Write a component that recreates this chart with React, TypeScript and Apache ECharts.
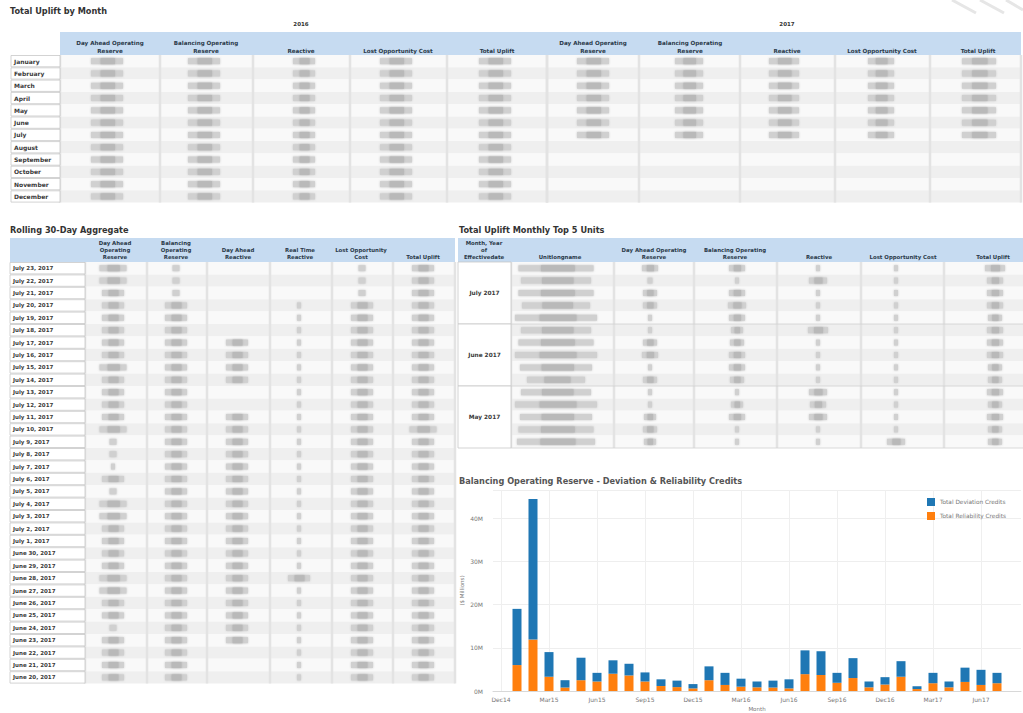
import React, { useEffect, useRef } from "react";
import * as echarts from "echarts";

// ---------------- Bar chart data ($ millions) ----------------
const monthLabels = ["Dec14","Jan15","Feb15","Mar15","Apr15","May15","Jun15","Jul15","Aug15","Sep15","Oct15","Nov15","Dec15","Jan16","Feb16","Mar16","Apr16","May16","Jun16","Jul16","Aug16","Sep16","Oct16","Nov16","Dec16","Jan17","Feb17","Mar17","Apr17","May17","Jun17","Jul17","Aug17"];
const reliabilityCredits = [null, 6.0, 11.9, 3.3, 0.8, 2.5, 2.2, 4.0, 3.6, 2.2, 1.15, 0.9, 0.6, 2.5, 1.4, 1.0, 0.85, 0.8, 0.6, 3.9, 3.7, 1.9, 3.0, 0.85, 1.5, 3.3, 0.45, 1.8, 0.85, 2.1, 1.4, 1.8, null];
const deviationCredits = [null, 13.0, 32.5, 5.7, 1.7, 5.2, 2.0, 3.1, 2.7, 2.1, 1.55, 1.5, 1.0, 3.2, 2.8, 1.85, 1.35, 1.6, 2.1, 5.5, 5.5, 2.3, 4.6, 1.35, 1.7, 3.6, 0.65, 2.4, 1.35, 3.3, 3.5, 2.4, null];
const seriesNames = ["Total Deviation Credits", "Total Reliability Credits"];
const chartTitle = "Balancing Operating Reserve - Deviation & Reliability Credits";
const yAxisName = "($ Millions)";
const xAxisName = "Month";

// ---------------- Table 1 ----------------
const t1Title = "Total Uplift by Month";
const t1Years = ["2016", "2017"];
const t1Measures = ["Day Ahead Operating\nReserve", "Balancing Operating\nReserve", "Reactive", "Lost Opportunity Cost", "Total Uplift"];
const t1Months = ["January","February","March","April","May","June","July","August","September","October","November","December"];
const t1FilledRows = [12, 7];

// ---------------- Table 2 ----------------
const t2Title = "Rolling 30-Day Aggregate";
const t2Measures = ["Day Ahead\nOperating\nReserve", "Balancing\nOperating\nReserve", "Day Ahead\nReactive", "Real Time\nReactive", "Lost Opportunity\nCost", "Total Uplift"];
const t2Dates = ["July 23, 2017","July 22, 2017","July 21, 2017","July 20, 2017","July 19, 2017","July 18, 2017","July 17, 2017","July 16, 2017","July 15, 2017","July 14, 2017","July 13, 2017","July 12, 2017","July 11, 2017","July 10, 2017","July 9, 2017","July 8, 2017","July 7, 2017","July 6, 2017","July 5, 2017","July 4, 2017","July 3, 2017","July 2, 2017","July 1, 2017","June 30, 2017","June 29, 2017","June 28, 2017","June 27, 2017","June 26, 2017","June 25, 2017","June 24, 2017","June 23, 2017","June 22, 2017","June 21, 2017","June 20, 2017"];
// blurred (unreadable) cell presence: L large, M medium, S small, T tiny, . empty
const t2Cells = [
  "LLMMMMMMLMMMMLSSTMSLLMMMMLLMMSMMMM",
  "SSSMMMMMMMMMMMMMMMMMMMMMMMMMMMMMMM",
  "......MMMM..MMMMMMMMMMMMMMMMMMM...",
  "...TTTTTTTTTTTTTTTTTTTTTTMTTTTTTTT",
  "SSSMMMMMMMMMMMMMMMMMMMMMMMMMMMMMMM",
  "MMMMMMMMMMMMMLMMMMMMMMMMMMMMMMMMMM",
];

// ---------------- Table 3 ----------------
const t3Title = "Total Uplift Monthly Top 5 Units";
const t3Headers = ["Month, Year\nof\nEffectivedate", "Unitlongname", "Day Ahead Operating\nReserve", "Balancing Operating\nReserve", "Reactive", "Lost Opportunity Cost", "Total Uplift"];
const t3Months = ["July 2017", "June 2017", "May 2017"];
const t3Cells = [
  [75, 70, 75, 68, 82, 70, 75, 82, 72, 58, 70, 82, 72, 75, 78],
  [16, 5, 14, 14, 4, 4, 14, 16, 4, 14, 4, 4, 12, 14, 12],
  [16, 4, 16, 18, 16, 12, 14, 16, 16, 14, 4, 12, 16, 4, 4],
  [4, 18, 4, 4, 4, 20, 4, 4, 4, 4, 18, 16, 18, 4, 4],
  [4, 4, 4, 4, 4, 4, 4, 4, 4, 4, 4, 4, 4, 4, 18],
  [20, 16, 16, 16, 14, 16, 16, 16, 14, 14, 16, 14, 16, 14, 14],
];

const FONT = "DejaVu Sans";
const HEADER_BLUE = "#c6dbf1";

function buildGraphics() {
  const els: any[] = [];
  const R = (x: number, y: number, w: number, h: number, fill: string, extra: any = {}) =>
    els.push({ type: "rect", silent: true, shape: { x, y, width: w, height: h }, style: { fill, ...extra } });
  const Ln = (x1: number, y1: number, x2: number, y2: number, stroke: string, lw: number) =>
    els.push({ type: "line", silent: true, shape: { x1, y1, x2, y2 }, style: { stroke, lineWidth: lw } });
  const T = (x: number, y: number, text: string, size: number, opts: any = {}) =>
    els.push({ type: "text", silent: true, x, y, style: { text, fontSize: size, fontFamily: FONT, fontWeight: "bold", fill: "#333", align: "left", verticalAlign: "middle", ...opts } });
  const blur = (cx: number, cy: number, w: number) => {
    if (w <= 0) return;
    R(cx - w / 2, cy - 3, w, 6, "#d0d0d0", { shadowBlur: 2, shadowColor: "rgba(195,195,195,0.9)" });
    if (w > 8) R(cx - w / 2 + w * 0.3, cy - 3, w * 0.45, 6, "#b9b9b9", { shadowBlur: 2, shadowColor: "rgba(180,180,180,0.9)" });
  };
  const sizeOf: Record<string, number> = { L: 27, M: 22, S: 7, T: 4, ".": 0 };

  // decorative streaks top-right
  Ln(952, 0, 976, 13, "#e6e6e6", 3);
  Ln(980, 0, 1004, 13, "#e6e6e6", 3);
  Ln(1006, 0, 1023, 10, "#e6e6e6", 3);

  // ===== Table 1 =====
  T(10, 11, t1Title, 8.2);
  const t1Bounds = [[60, 160, 253, 350, 447, 547], [547, 639, 740, 835, 930, 1021]];
  const t1HeadC = [[110, 206, 301, 398, 497], [593, 690, 787, 882, 978]];
  const t1BlockC = [[107, 204, 304, 396, 495], [593, 689, 784, 881, 979]];
  const t1BlockW = [[32, 32, 22, 32, 32], [32, 28, 30, 26, 34]];
  const t1Top = 55, t1H = 12.3;
  R(60, 32, 961, 23, HEADER_BLUE);
  T(301, 24, t1Years[0], 5.5, { align: "center" });
  T(787, 24, t1Years[1], 5.5, { align: "center" });
  for (let i = 0; i < t1Months.length; i++) {
    const y = t1Top + i * t1H;
    R(60, y, 961, t1H, i % 2 ? "#efefef" : "#f9f9f9");
  }
  for (let yi = 0; yi < 2; yi++) {
    t1Bounds[yi].forEach((b) => Ln(b, t1Top, b, t1Top + 12 * t1H, "#e3e3e3", 2.5));
    t1Measures.forEach((m, j) => T(t1HeadC[yi][j], 55, m, 5.6, { align: "center", verticalAlign: "bottom", lineHeight: 8, fill: "#2b3a4a" }));
    for (let i = 0; i < t1FilledRows[yi]; i++) {
      const cy = t1Top + i * t1H + t1H / 2;
      for (let j = 0; j < 5; j++) blur(t1BlockC[yi][j], cy, t1BlockW[yi][j]);
    }
  }
  t1Months.forEach((m, i) => {
    const y = t1Top + i * t1H;
    R(11, y + 0.5, 49, t1H - 1, "#ffffff", { stroke: "#c8c8c8", lineWidth: 0.8 });
    T(14, y + t1H / 2, m, 6, { fill: "#3a3a3a" });
  });

  // ===== Table 2 =====
  T(10, 230, t2Title, 8.2);
  const t2Top = 262, t2H = 12.4;
  const t2Bounds = [85, 147, 207, 270, 332, 393, 455];
  const t2HeadC = [115, 176, 238, 300, 361, 423];
  const t2BlockC = [113, 176, 237, 299, 362, 423];
  R(10, 238, 445, 24, HEADER_BLUE);
  t2Dates.forEach((_, i) => R(85, t2Top + i * t2H, 370, t2H, i % 2 ? "#efefef" : "#f9f9f9"));
  t2Bounds.forEach((b) => Ln(b, t2Top, b, t2Top + t2Dates.length * t2H, "#e3e3e3", 2.5));
  t2Measures.forEach((m, j) => T(t2HeadC[j], 260, m, 5.4, { align: "center", verticalAlign: "bottom", lineHeight: 7, fill: "#2b3a4a" }));
  t2Dates.forEach((d, i) => {
    const y = t2Top + i * t2H;
    R(10, y + 0.5, 75, t2H - 1, "#ffffff", { stroke: "#c8c8c8", lineWidth: 0.8 });
    T(13, y + t2H / 2, d, 5.5, { fill: "#3a3a3a" });
    for (let j = 0; j < 6; j++) blur(t2BlockC[j], y + t2H / 2, sizeOf[t2Cells[j][i]] || 0);
  });

  // ===== Table 3 =====
  T(459, 230, t3Title, 8.2);
  const t3Top = 262, t3H = 12.4;
  const t3Bounds = [511, 614, 694, 777, 861, 944];
  const t3HeadC = [484, 560, 654, 735, 819, 903, 993];
  const t3BlockC = [556, 650, 737, 818, 896, 995];
  R(458, 238, 565, 24, HEADER_BLUE);
  for (let i = 0; i < 15; i++) R(511, t3Top + i * t3H, 512, t3H, i % 2 ? "#efefef" : "#f9f9f9");
  t3Bounds.forEach((b) => Ln(b, t3Top, b, t3Top + 15 * t3H, "#e3e3e3", 2.5));
  t3Headers.forEach((h, j) => T(t3HeadC[j], 260, h, 5.4, { align: "center", verticalAlign: "bottom", lineHeight: 7, fill: "#2b3a4a" }));
  for (let i = 0; i < 15; i++) {
    const cy = t3Top + i * t3H + t3H / 2;
    for (let j = 0; j < 6; j++) blur(t3BlockC[j], cy, t3Cells[j][i]);
  }
  t3Months.forEach((m, g) => {
    const y = t3Top + g * 5 * t3H;
    R(458, y, 53, 5 * t3H, "#ffffff", { stroke: "#c8c8c8", lineWidth: 0.8 });
    Ln(511, y + 5 * t3H, 1023, y + 5 * t3H, "#d0d0d0", 0.8);
    T(484.5, y + 2.5 * t3H, m, 5.8, { align: "center", fill: "#3a3a3a" });
  });

  // ===== Chart title =====
  T(459, 481, chartTitle, 8.2, { fill: "#555" });
  return els;
}

export default function App() {
  const ref = useRef<HTMLDivElement>(null);
  useEffect(() => {
    if (!ref.current) return;
    const chart = echarts.init(ref.current, null, { renderer: "svg" });
    chart.setOption({
      animation: false,
      backgroundColor: "#ffffff",
      textStyle: { fontFamily: FONT },
      graphic: { elements: buildGraphics() },
      legend: {
        data: seriesNames,
        orient: "vertical",
        left: 927,
        top: 498,
        padding: 0,
        itemWidth: 8,
        itemHeight: 8,
        itemGap: 6,
        icon: "rect",
        textStyle: { fontSize: 5.8, color: "#777", fontFamily: FONT },
      },
      grid: { left: 493, top: 490, width: 528, height: 202 },
      xAxis: {
        type: "category",
        data: monthLabels,
        name: xAxisName,
        nameLocation: "middle",
        nameGap: 15,
        nameMoveOverlap: false,
        nameTextStyle: { fontSize: 5.5, color: "#777" },
        axisLine: { lineStyle: { color: "#d8d8d8" } },
        axisTick: { show: false },
        axisLabel: { interval: 2, fontSize: 6, color: "#777", margin: 5 },
        splitLine: { show: true, interval: 2, alignWithLabel: true, lineStyle: { color: "#efefef" } },
      },
      yAxis: {
        type: "value",
        min: 0,
        max: 46.5,
        interval: 10,
        name: yAxisName,
        nameLocation: "middle",
        nameRotate: 90,
        nameGap: 28,
        nameMoveOverlap: false,
        nameTextStyle: { fontSize: 5.5, color: "#777" },
        axisLine: { show: false },
        axisTick: { show: false },
        axisLabel: { fontSize: 6, color: "#777", margin: 10, showMaxLabel: false, formatter: (v: number) => v + "M" },
        splitLine: { lineStyle: { color: "#eeeeee" } },
      },
      series: [
        { name: seriesNames[1], type: "bar", stack: "credits", barWidth: 9, data: reliabilityCredits, itemStyle: { color: "#ff7f0e" } },
        { name: seriesNames[0], type: "bar", stack: "credits", barWidth: 9, data: deviationCredits, itemStyle: { color: "#1f77b4" } },
      ],
    });
    return () => chart.dispose();
  }, []);
  return <div ref={ref} style={{ position: "absolute", left: 0, top: 0, width: 1023, height: 713 }} />;
}
